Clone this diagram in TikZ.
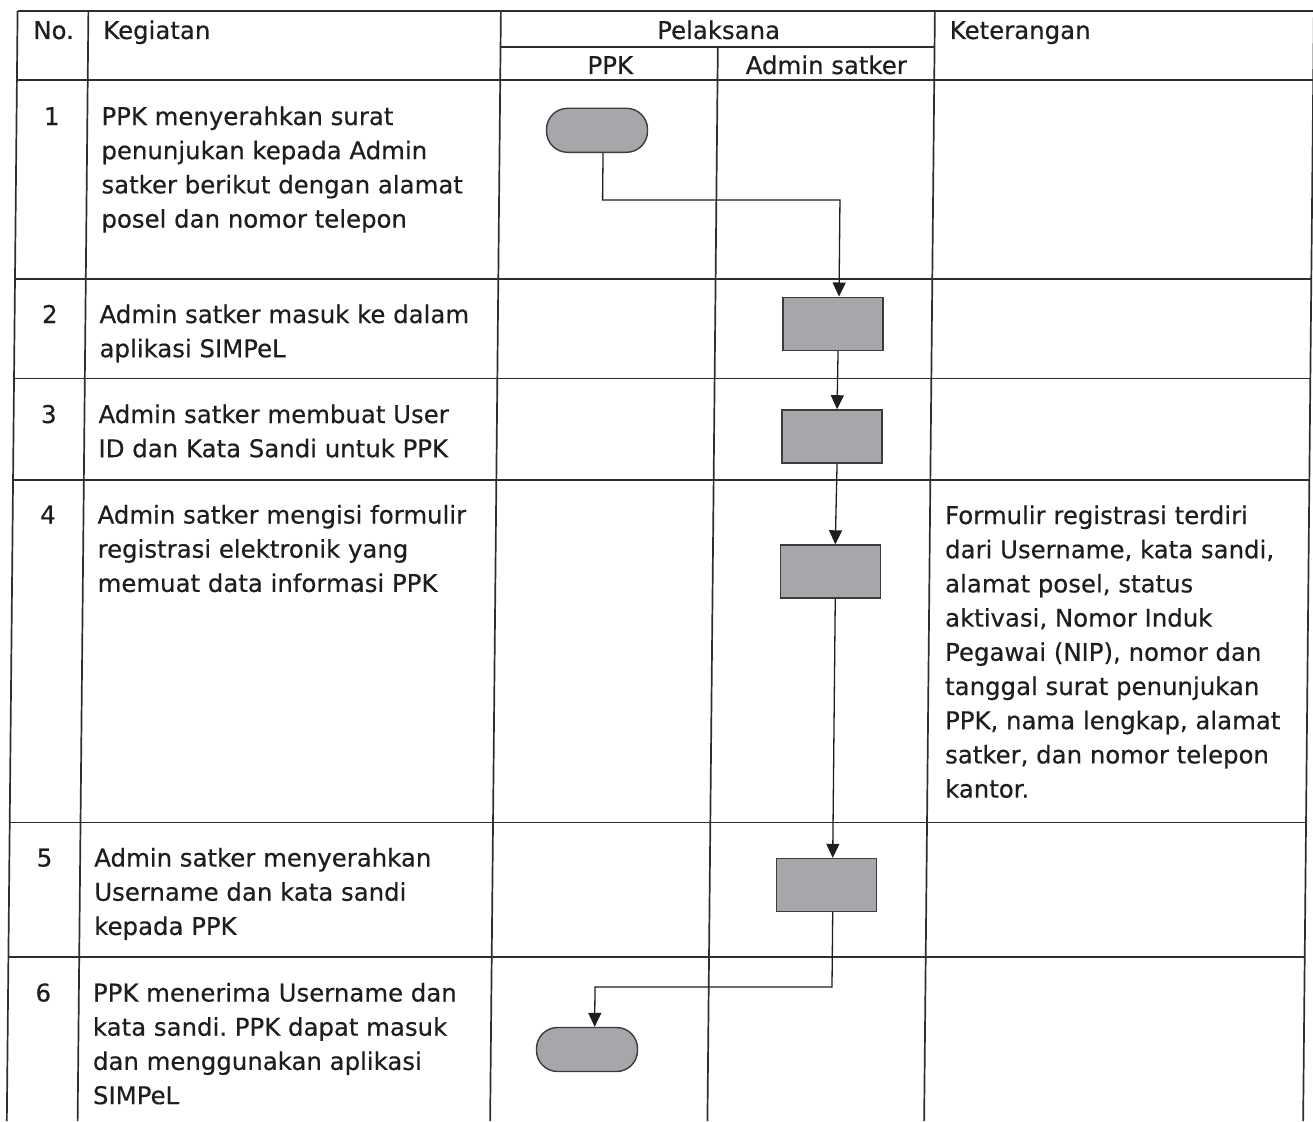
\documentclass[tikz,border=0pt]{standalone}
\usepackage{fontspec}
\setmainfont{DejaVu Sans}[FakeBold=0.4]
\usetikzlibrary{arrows.meta}
\definecolor{ink}{HTML}{1E1E1E}
\definecolor{rulec}{HTML}{2E2E2E}
\definecolor{shapefill}{RGB}{166,166,171}
\definecolor{shapeedge}{HTML}{3C3C3C}
\newcommand{\celltext}[1]{\begin{tabular}[t]{@{}l@{}}#1\end{tabular}}
\tikzset{
  txt/.style={inner sep=0pt, anchor=base west, text=ink, font=\fontsize{24.4}{34.2}\selectfont},
  ctxt/.style={inner sep=0pt, anchor=base, text=ink, font=\fontsize{24.4}{34.2}\selectfont},
  gridline/.style={draw=rulec, line width=1.7pt},
  term/.style={draw=shapeedge, fill=shapefill, line width=1.4pt, rounded corners=21pt,
    minimum width=101pt, minimum height=44pt, inner sep=0pt},
  act/.style={draw=shapeedge, fill=shapefill, line width=1.4pt,
    minimum width=100pt, minimum height=53pt, inner sep=0pt},
  flow/.style={draw=ink, line width=1.3pt, -{Triangle[length=14pt,width=13pt]}}
}
\frenchspacing
\begin{document}
\begin{tikzpicture}[x=1pt,y=-1pt]
\path[fill=white, use as bounding box] (0,0) rectangle (1313,1121);
\begin{scope}[xslant=0.0097]
% horizontal rules
\path[gridline] (17.7,11) -- (1314,11);
\path[gridline] (501,47) -- (935,47);
\foreach \yy in {80,279,378.5,480,822.5,957}
  \path[gridline] (17.7,\yy) -- (1314,\yy);
% vertical rules
\foreach \xx in {17.7,88.5,501,935,1314}
  \path[gridline] (\xx,11) -- (\xx,1121);
\path[gridline] (718.3,47) -- (718.3,1121);

% header
\node[ctxt] (hno) at (54,39) {No.};
\node[txt] (hkeg) at (103.5,39) {Kegiatan};
\node[ctxt] (hpel) at (719,39) {Pelaksana};
\node[ctxt] (hppk) at (611,74) {PPK};
\node[ctxt] (hadm) at (827,74) {Admin satker};
\node[txt] (hket) at (950,39) {Keterangan};

% numbers
\node[ctxt] (n1) at (53,125) {1};
\node[ctxt] (n2) at (53,323) {2};
\node[ctxt] (n3) at (53,423) {3};
\node[ctxt] (n4) at (53,523.5) {4};
\node[ctxt] (n5) at (53,866.5) {5};
\node[ctxt] (n6) at (53,1001.5) {6};

% activities
\node[txt] (tx1) at (102.5,125) {\celltext{PPK menyerahkan surat\\penunjukan kepada Admin\\satker berikut dengan alamat\\posel dan nomor telepon}};
\node[txt] (tx2) at (102.5,323) {\celltext{Admin satker masuk ke dalam\\aplikasi SIMPeL}};
\node[txt] (tx3) at (102.5,423) {\celltext{Admin satker membuat User\\ID dan Kata Sandi untuk PPK}};
\node[txt] (tx4) at (102.5,523.5) {\celltext{Admin satker mengisi formulir\\registrasi elektronik yang\\memuat data informasi PPK}};
\node[txt] (tx5) at (102.5,866.5) {\celltext{Admin satker menyerahkan\\Username dan kata sandi\\kepada PPK}};
\node[txt] (tx6) at (102.5,1001.5) {\celltext{PPK menerima Username dan\\kata sandi. PPK dapat masuk\\dan menggunakan aplikasi\\SIMPeL}};

% remark
\node[txt] (ket4) at (950,524) {\celltext{Formulir registrasi terdiri\\dari Username, kata sandi,\\alamat posel, status\\aktivasi, Nomor Induk\\Pegawai (NIP), nomor dan\\tanggal surat penunjukan\\PPK, nama lengkap, alamat\\satker, dan nomor telepon\\kantor.}};

% flow shapes
\node[term] (t1) at (598.3,130.3) {};
\node[act] (b2) at (836.2,323.7) {};
\node[act] (b3) at (836.3,436.4) {};
\node[act] (b4) at (835.8,571.5) {};
\node[act] (b5) at (835.3,885) {};
\node[term] (t2) at (597.2,1049.5) {};

\coordinate (e1) at (841.9,200);
\coordinate (e2) at (604.6,987);

\draw[flow] ([xshift=6pt]t1.south) |- (e1) -- (e1 |- b2.north);
\draw[flow] ([xshift=5pt]b2.south) -- ([xshift=5pt]b3.north);
\draw[flow] ([xshift=5pt]b3.south) -- ([xshift=5pt]b4.north);
\draw[flow] ([xshift=5pt]b4.south) -- ([xshift=6pt]b5.north);
\draw[flow] ([xshift=6pt]b5.south) |- (e2) -- (e2 |- t2.north);
\end{scope}
\end{tikzpicture}
\end{document}
